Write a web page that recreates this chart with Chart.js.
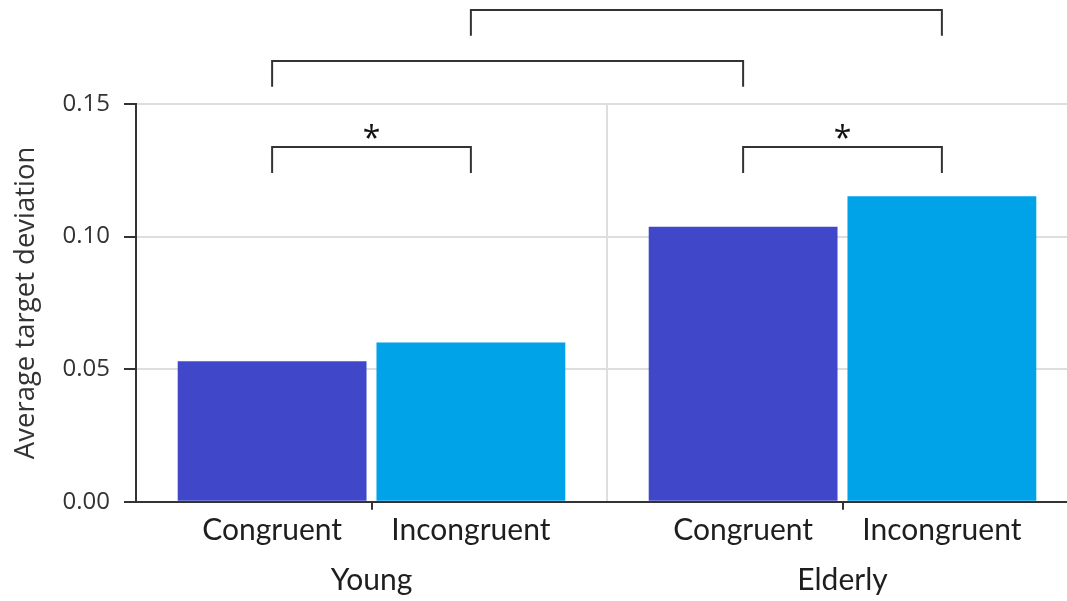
<!DOCTYPE html>
<html>
<head>
<meta charset="utf-8">
<script src="https://cdn.jsdelivr.net/npm/chart.js@4/dist/chart.umd.min.js"></script>
<style>
  html, body { margin: 0; padding: 0; background: #fff; overflow: hidden; }
  #wrap { width: 1078px; height: 601px; }
</style>
</head>
<body>
<div id="wrap"><canvas id="chart" width="1078" height="601"></canvas></div>
<script>
// Age groups on the x axis, task conditions as the two bars in each group
const groups = ['Young', 'Elderly'];
const conditions = ['Congruent', 'Incongruent'];
const congruentValues = [0.053, 0.1037];
const incongruentValues = [0.060, 0.1152];
const yTicks = [0.00, 0.05, 0.10, 0.15];

// Pairwise comparisons: [group, condition] -> [group, condition], with marker text
const comparisons = [
  { from: [0, 0], to: [0, 1], mark: '*' },
  { from: [1, 0], to: [1, 1], mark: '*' },
  { from: [0, 0], to: [1, 0], mark: '' },
  { from: [0, 1], to: [1, 1], mark: '' }
];

const INK = '#333333';
const TEXT = '#1e1e1e';
const GRID = '#dedede';
const LABEL_FONT = '30px Lato';

// Draws the tick marks at group centres, the condition labels and the brackets
const annotate = {
  id: 'annotate',
  afterDraw(chart, args, opts) {
    const { ctx, chartArea, scales: { x, y } } = chart;
    const barX = (g, c) => chart.getDatasetMeta(c).data[g].x;
    const seg = (x1, y1, x2, y2) => { ctx.beginPath(); ctx.moveTo(x1, y1); ctx.lineTo(x2, y2); ctx.stroke(); };
    ctx.save();
    ctx.strokeStyle = INK;
    ctx.lineWidth = 2;
    ctx.lineCap = 'butt';

    groups.forEach((_, i) => {
      const px = Math.round(x.getPixelForTick(i));
      seg(px, chartArea.bottom, px, chartArea.bottom + 8);
    });

    ctx.fillStyle = TEXT;
    ctx.font = LABEL_FONT;
    ctx.textAlign = 'center';
    ctx.textBaseline = 'middle';
    groups.forEach((_, g) => {
      conditions.forEach((name, c) => {
        ctx.fillText(name, barX(g, c), chartArea.bottom + 29);
      });
    });

    comparisons.forEach((cmp, i) => {
      const [top, foot] = opts.levels[i];
      const x1 = barX(cmp.from[0], cmp.from[1]);
      const x2 = barX(cmp.to[0], cmp.to[1]);
      const yt = Math.round(y.getPixelForValue(top));
      const yf = y.getPixelForValue(foot);
      ctx.beginPath();
      ctx.moveTo(x1, yf);
      ctx.lineTo(x1, yt);
      ctx.lineTo(x2, yt);
      ctx.lineTo(x2, yf);
      ctx.stroke();
      if (cmp.mark) {
        ctx.font = '32px "Open Sans"';
        ctx.textBaseline = 'alphabetic';
        const m = ctx.measureText(cmp.mark);
        const cy = yt - 16;
        const base = cy + (m.actualBoundingBoxAscent - m.actualBoundingBoxDescent) / 2;
        ctx.fillStyle = '#111';
        ctx.fillText(cmp.mark, (x1 + x2) / 2, base);
      }
    });
    ctx.restore();
  }
};

function draw() {
  new Chart(document.getElementById('chart'), {
    type: 'bar',
    data: {
      labels: groups,
      datasets: [
        { label: conditions[0], data: congruentValues, backgroundColor: '#4048C9' },
        { label: conditions[1], data: incongruentValues, backgroundColor: '#00A3E8' }
      ]
    },
    options: {
      responsive: false,
      animation: false,
      devicePixelRatio: 1,
      categoryPercentage: 0.844,
      barPercentage: 0.95,
      layout: { padding: { top: 104, left: 8, right: 0, bottom: 0 } },
      plugins: {
        legend: { display: false },
        tooltip: { enabled: false },
        annotate: {
          levels: [
            [0.1337, 0.1240],
            [0.1337, 0.1240],
            [0.1663, 0.1565],
            [0.1854, 0.1757]
          ]
        }
      },
      scales: {
        x: {
          offset: true,
          grid: { display: true, offset: true, drawOnChartArea: true, drawTicks: false, color: GRID, lineWidth: 2 },
          border: { display: true, color: INK, width: 2 },
          ticks: { font: { family: 'Lato', size: 30 }, color: TEXT, padding: 61, maxRotation: 0, autoSkip: false },
          afterFit(scale) { scale.height = 99.3; }
        },
        y: {
          min: 0,
          max: 0.15,
          afterBuildTicks(scale) { scale.ticks = yTicks.map(v => ({ value: v })); },
          grid: { color: GRID, lineWidth: 2, tickColor: INK, tickLength: 12, drawTicks: true },
          border: { display: true, color: INK, width: 2 },
          ticks: {
            font: { family: 'Open Sans', size: 24 },
            color: INK,
            padding: 14,
            callback: v => Number(v).toFixed(2)
          },
          title: {
            display: true,
            text: 'Average target deviation',
            font: { family: 'Open Sans', size: 27.5 },
            color: INK,
            padding: { top: 2, bottom: 10 }
          },
          afterFit(scale) { scale.width = 128; }
        }
      }
    },
    plugins: [annotate]
  });
}

Promise.all([
  document.fonts.load('27px "Open Sans"'),
  document.fonts.load('30px Lato')
]).then(draw, draw);
</script>
</body>
</html>
